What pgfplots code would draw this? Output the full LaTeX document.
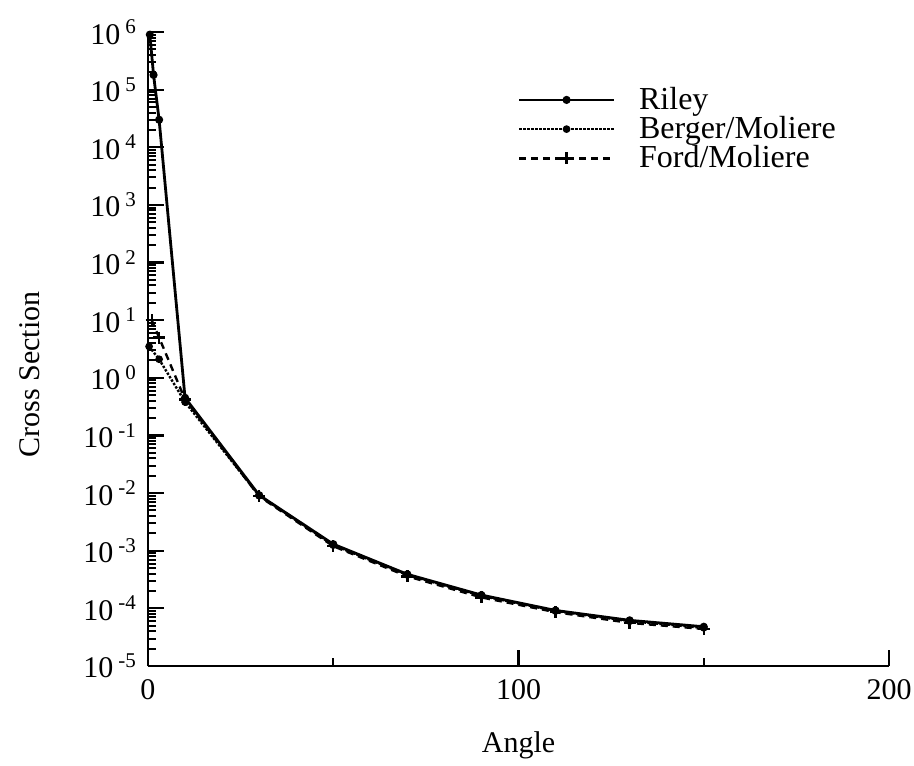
\documentclass[border=0pt]{standalone}
\usepackage{fontspec}
\setmainfont{Liberation Serif}
\usepackage{pgfplots}
\pgfplotsset{compat=1.18}
\begin{document}
\begin{tikzpicture}
\begin{axis}[
  at={(0,0)}, anchor=south west,
  scale only axis,
  width=370.5pt, height=317pt,
  xmin=0, xmax=200,
  ymode=log, ymin=1e-5, ymax=1e6,
  axis x line*=bottom, axis y line*=left,
  axis line style={line width=1.1pt},
  xtick={0,100,200},
  xticklabels={0,100,200},
  minor xtick={50,150},
  ytick={1e-5,1e-4,1e-3,1e-2,1e-1,1e0,1e1,1e2,1e3,1e4,1e5,1e6},
  yticklabels={10\,\textsuperscript{-5},10\,\textsuperscript{-4},10\,\textsuperscript{-3},10\,\textsuperscript{-2},10\,\textsuperscript{-1},10\,\textsuperscript{0},10\,\textsuperscript{1},10\,\textsuperscript{2},10\,\textsuperscript{3},10\,\textsuperscript{4},10\,\textsuperscript{5},10\,\textsuperscript{6}},
  minor ytick={2e-5,3e-5,4e-5,5e-5,6e-5,7e-5,8e-5,9e-5,2e-4,3e-4,4e-4,5e-4,6e-4,7e-4,8e-4,9e-4,2e-3,3e-3,4e-3,5e-3,6e-3,7e-3,8e-3,9e-3,0.02,0.03,0.04,0.05,0.06,0.07,0.08,0.09,0.2,0.3,0.4,0.5,0.6,0.7,0.8,0.9,2,3,4,5,6,7,8,9,20,30,40,50,60,70,80,90,200,300,400,500,600,700,800,900,2e3,3e3,4e3,5e3,6e3,7e3,8e3,9e3,2e4,3e4,4e4,5e4,6e4,7e4,8e4,9e4,2e5,3e5,4e5,5e5,6e5,7e5,8e5,9e5},
  tick align=inside,
  major tick length=8pt,
  minor tick length=4pt,
  major tick style={line width=1.1pt, black},
  minor tick style={line width=1pt, black},
  tick label style={font=\fontsize{15}{18}\selectfont},
  yticklabel style={xshift=-2pt},
  xticklabel style={yshift=-3pt},
  xlabel={Angle}, ylabel={Cross Section},
  label style={font=\fontsize{15}{18}\selectfont},
  x label style={at={(axis description cs:0.5,0)}, anchor=center, yshift=-39.5pt},
  y label style={at={(axis description cs:-0.159,0.46)}, anchor=center},
  legend style={draw=none, fill=none, at={(0.4906,0.926)}, anchor=north west,
    font=\fontsize{16}{18}\selectfont, row sep=-2pt},
  legend cell align=left,
  legend image code/.code={\draw[#1,mark repeat=2,mark phase=2] plot coordinates {(0cm,0cm) (0.83cm,0cm) (1.66cm,0cm)};\path (2.01cm,0cm);},
]
\addplot[black, line width=1.4pt, mark=*, mark size=1.3pt] coordinates {
  (0.5,9e5) (1.5,1.8e5) (3,3e4) (10,0.45) (30,9.2e-3) (50,1.3e-3) (70,3.9e-4) (90,1.7e-4) (110,9.2e-5) (130,6.2e-5) (150,4.8e-5)};
\addlegendentry{Riley}
\addplot[black, line width=1.2pt, dash pattern=on 1.2pt off 0.8pt, mark=*, mark size=1.3pt, mark options={solid}] coordinates {
  (0.3,3.5) (3,2.1) (10,0.38) (30,9e-3) (50,1.25e-3) (70,3.8e-4) (90,1.65e-4) (110,9e-5) (130,6e-5) (150,4.6e-5)};
\addlegendentry{Berger/Moliere}
\addplot[black, line width=1.2pt, dash pattern=on 3.5pt off 2.5pt, mark=+, mark size=3pt, mark options={solid, line width=1.2pt}] coordinates {
  (1,10) (3,5) (10,0.42) (30,8.8e-3) (50,1.2e-3) (70,3.6e-4) (90,1.55e-4) (110,8.6e-5) (130,5.6e-5) (150,4.4e-5)};
\addlegendentry{Ford/Moliere}
\end{axis}
\pgfresetboundingbox
\path (-74pt,-49.5pt) rectangle (383pt,333pt);
\end{tikzpicture}
\end{document}
